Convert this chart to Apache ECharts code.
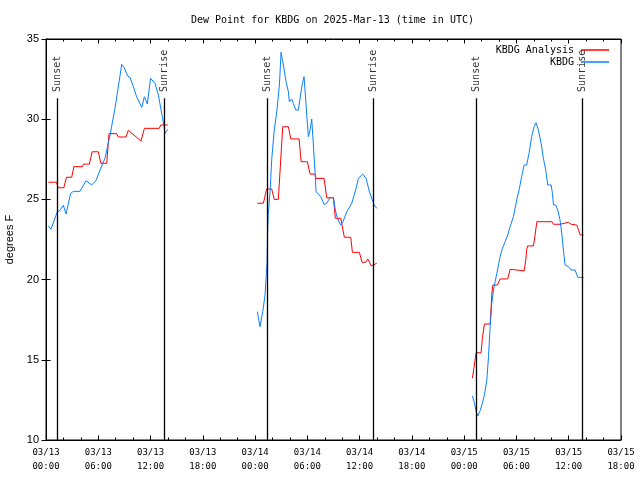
<!DOCTYPE html>
<html><head><meta charset="utf-8">
<script src="https://cdn.jsdelivr.net/npm/echarts/dist/echarts.min.js"></script>
<style>html,body{margin:0;padding:0;background:#fff}#c{width:640px;height:480px}</style>
</head><body><div id="c"></div>
<script>
// hours since 2025-03-13 00:00 UTC
const chartTitle = 'Dew Point for KBDG on 2025-Mar-13 (time in UTC)';
const yName = 'degrees F';
const dayLabels = ['03/13', '03/14', '03/15'];
const analysisName = 'KBDG Analysis';
const obsName = 'KBDG';

const analysis1 = [[0.27,26.07],[1.2,26.07],[1.4,25.73],[2.05,25.73],[2.35,26.38],[2.95,26.38],[3.2,27.04],[4.2,27.04],[4.3,27.2],[4.97,27.2],[5.3,27.97],[6.0,27.97],[6.3,27.25],[6.97,27.25],[7.23,29.1],[8.1,29.1],[8.3,28.89],[9.18,28.89],[9.45,29.31],[10.9,28.64],[11.3,29.43],[13.0,29.43],[13.17,29.64],[13.97,29.64]];
const analysis2 = [[24.26,24.76],[24.95,24.76],[25.33,25.65],[25.91,25.65],[26.2,25.0],[26.67,25.0],[26.87,26.83],[27.17,29.53],[27.82,29.53],[28.1,28.77],[29.05,28.77],[29.28,27.35],[30.0,27.35],[30.31,26.58],[30.88,26.58],[31.0,26.31],[31.92,26.31],[32.22,25.1],[32.99,25.1],[33.21,23.82],[33.83,23.82],[34.25,22.64],[34.98,22.64],[35.17,21.7],[35.97,21.7],[36.28,21.08],[36.7,21.08],[36.93,21.28],[37.35,20.85],[37.96,21.02]];
const analysis3 = [[48.94,13.85],[49.17,14.68],[49.37,15.44],[49.94,15.44],[50.09,16.34],[50.32,17.23],[50.98,17.23],[51.17,19.04],[51.28,19.66],[51.81,19.66],[52.12,20.04],[53.0,20.04],[53.27,20.64],[54.03,20.6],[54.88,20.54],[55.07,21.22],[55.17,21.85],[55.28,22.1],[55.95,22.1],[56.14,22.78],[56.34,23.61],[58.06,23.61],[58.25,23.45],[59.01,23.45],[59.2,23.57],[59.97,23.57],[60.28,23.45],[60.93,23.4],[61.13,23.09],[61.32,22.78],[61.7,22.78]];

const obs1 = [[0.27,23.34],[0.57,23.14],[1.3,24.23],[1.53,24.28],[1.99,24.63],[2.3,24.09],[2.83,25.38],[3.14,25.5],[3.9,25.5],[4.59,26.17],[5.24,25.9],[5.74,26.17],[6.2,26.83],[6.77,27.56],[7.35,29.01],[7.92,30.68],[8.42,32.44],[8.69,33.42],[8.96,33.23],[9.38,32.69],[9.64,32.61],[10.03,32.03],[10.4,31.4],[10.99,30.74],[11.29,31.4],[11.63,30.95],[12.0,32.55],[12.51,32.24],[12.9,31.51],[13.28,30.37],[13.55,29.53],[13.66,29.12],[13.97,29.37]];
const obs2 = [[24.26,18.0],[24.57,17.06],[24.88,18.0],[25.14,19.04],[25.26,20.08],[25.38,21.1],[25.42,22.6],[25.5,24.0],[25.72,25.48],[25.91,27.5],[26.18,29.22],[26.49,30.47],[26.79,32.13],[26.98,34.17],[27.1,33.8],[27.25,33.38],[27.55,32.34],[27.82,31.72],[27.93,31.09],[28.2,31.26],[28.39,30.99],[28.67,30.57],[28.97,30.57],[29.16,31.3],[29.43,32.24],[29.62,32.65],[29.77,31.51],[29.93,30.26],[30.12,28.91],[30.31,29.33],[30.5,30.01],[30.69,28.39],[30.88,26.73],[31.0,25.48],[31.54,25.17],[31.92,24.69],[32.22,24.76],[32.6,25.11],[33.0,25.11],[33.21,24.34],[33.45,23.82],[33.83,23.4],[34.06,23.57],[34.52,24.23],[35.1,24.76],[35.59,25.69],[35.86,26.31],[36.36,26.58],[36.74,26.31],[37.12,25.48],[37.66,24.65],[37.97,24.44]];
const obs3 = [[48.94,12.74],[49.17,12.33],[49.37,11.77],[49.56,11.5],[49.83,11.83],[50.09,12.29],[50.32,12.81],[50.6,13.74],[50.79,15.19],[50.98,17.06],[51.17,18.52],[51.36,19.35],[51.55,19.87],[51.75,20.39],[51.94,20.91],[52.12,21.43],[52.39,21.95],[52.7,22.36],[53.0,22.78],[53.27,23.3],[53.65,23.92],[54.03,24.96],[54.3,25.59],[54.6,26.42],[54.88,27.14],[55.17,27.14],[55.44,27.87],[55.75,28.91],[56.02,29.53],[56.25,29.78],[56.51,29.33],[56.83,28.5],[57.09,27.56],[57.36,26.83],[57.59,25.9],[57.98,25.9],[58.13,25.38],[58.25,24.65],[58.51,24.65],[58.74,24.34],[59.0,23.72],[59.2,22.89],[59.39,21.85],[59.58,20.91],[59.97,20.81],[60.28,20.6],[60.47,20.49],[60.73,20.6],[61.05,20.14],[61.7,20.14]];

const sunHours = [1.30, 13.58, 25.40, 37.57, 49.39, 61.56];
const sunNames = ['Sunset', 'Sunrise', 'Sunset', 'Sunrise', 'Sunset', 'Sunrise'];
const sunLineTop = 31.3;
const sunLabelBase = 31.7;

const RED = '#ff0000';
const BLUE = '#0a80ff';
const MONO = 'DejaVu Sans Mono';
const SANS = 'Liberation Sans';

function fmtX(v) {
  const d = Math.floor(v / 24);
  const h = v - d * 24;
  return dayLabels[d] + '\n' + (h < 10 ? '0' : '') + h + ':00';
}

function lineSeries(name, data, color) {
  return {
    name: name, type: 'line', data: data, showSymbol: false, symbol: 'none',
    lineStyle: { color: color, width: 1 }, itemStyle: { color: color },
    animation: false, silent: true, z: 3
  };
}

const chart = echarts.init(document.getElementById('c'), null, { renderer: 'canvas' });
const series = [
  lineSeries(analysisName, analysis1, RED),
  lineSeries(analysisName, analysis2, RED),
  lineSeries(analysisName, analysis3, RED),
  lineSeries(obsName, obs1, BLUE),
  lineSeries(obsName, obs2, BLUE),
  lineSeries(obsName, obs3, BLUE),
  {
    type: 'scatter', name: 'sun', silent: true, animation: false, z: 5,
    symbolSize: 1, itemStyle: { color: 'rgba(0,0,0,0)' },
    data: sunHours.map((h, i) => [h, sunLabelBase, sunNames[i]]),
    label: {
      show: true, position: 'inside', formatter: p => p.data[2],
      rotate: 90, align: 'left', verticalAlign: 'middle', offset: [0, 2],
      fontFamily: MONO, fontSize: 10, color: '#000'
    },
    labelLayout: { hideOverlap: false },
    markLine: {
      silent: true, symbol: ['none', 'none'], animation: false,
      label: { show: false },
      lineStyle: { color: '#000', width: 1.3, type: 'solid' },
      data: sunHours.map(h => [{ coord: [h, 10] }, { coord: [h, sunLineTop] }])
    }
  }
];

const legendCommon = {
  orient: 'vertical', align: 'right', padding: 0, icon: 'rect',
  itemWidth: 28, itemHeight: 1.5, selectedMode: false,
  textStyle: { fontFamily: MONO, fontSize: 10, color: '#000', padding: [0, 2, 0, 0] }
};

chart.setOption({
  animation: false,
  backgroundColor: '#fff',
  title: {
    text: chartTitle, left: 191, top: 15, padding: 0,
    textStyle: { fontFamily: MONO, fontSize: 10, fontWeight: 'normal', color: '#000' }
  },
  legend: [
    Object.assign({ data: [analysisName], right: 31, top: 45 }, legendCommon),
    Object.assign({ data: [obsName], right: 31, top: 57 }, legendCommon)
  ],
  grid: {
    left: 46, right: 19, top: 39, bottom: 40, show: true, borderColor: '#000', borderWidth: 1,
    containLabel: false, outerBoundsMode: 'none'
  },
  xAxis: [
    {
      type: 'value', min: 0, max: 66, interval: 6, position: 'bottom',
      axisLine: { show: true, lineStyle: { color: '#000', width: 1 } },
      axisTick: { show: true, inside: true, length: 4.5, lineStyle: { color: '#000' } },
      minorTick: { show: true, splitNumber: 3, length: 2.5, lineStyle: { color: '#000' } },
      splitLine: { show: false },
      axisLabel: {
        formatter: fmtX, fontFamily: MONO, fontSize: 9, color: '#000', lineHeight: 14, margin: 6,
        showMinLabel: true, showMaxLabel: true
      }
    },
    {
      type: 'value', min: 0, max: 66, interval: 6, position: 'top',
      axisLine: { show: true, lineStyle: { color: '#000', width: 1 } },
      axisTick: { show: true, inside: true, length: 4.5, lineStyle: { color: '#000' } },
      minorTick: { show: true, splitNumber: 3, length: 2.5, lineStyle: { color: '#000' } },
      splitLine: { show: false }, axisLabel: { show: false }
    }
  ],
  yAxis: [
    {
      type: 'value', min: 10, max: 35, interval: 5, position: 'left',
      name: yName, nameLocation: 'middle', nameRotate: 90, nameGap: 31,
      nameTextStyle: { fontFamily: SANS, fontSize: 11, color: '#000' },
      axisLine: { show: true, lineStyle: { color: '#000', width: 1 } },
      axisTick: { show: true, inside: true, length: 4.5, lineStyle: { color: '#000' } },
      splitLine: { show: false },
      axisLabel: { fontFamily: SANS, fontSize: 11, color: '#000', margin: 7 }
    },
    {
      type: 'value', min: 10, max: 35, interval: 5, position: 'right',
      axisLine: { show: true, lineStyle: { color: '#000', width: 1 } },
      axisTick: { show: true, inside: true, length: 4.5, lineStyle: { color: '#000' } },
      splitLine: { show: false }, axisLabel: { show: false }
    }
  ],
  series: series
});
</script>
</body></html>
